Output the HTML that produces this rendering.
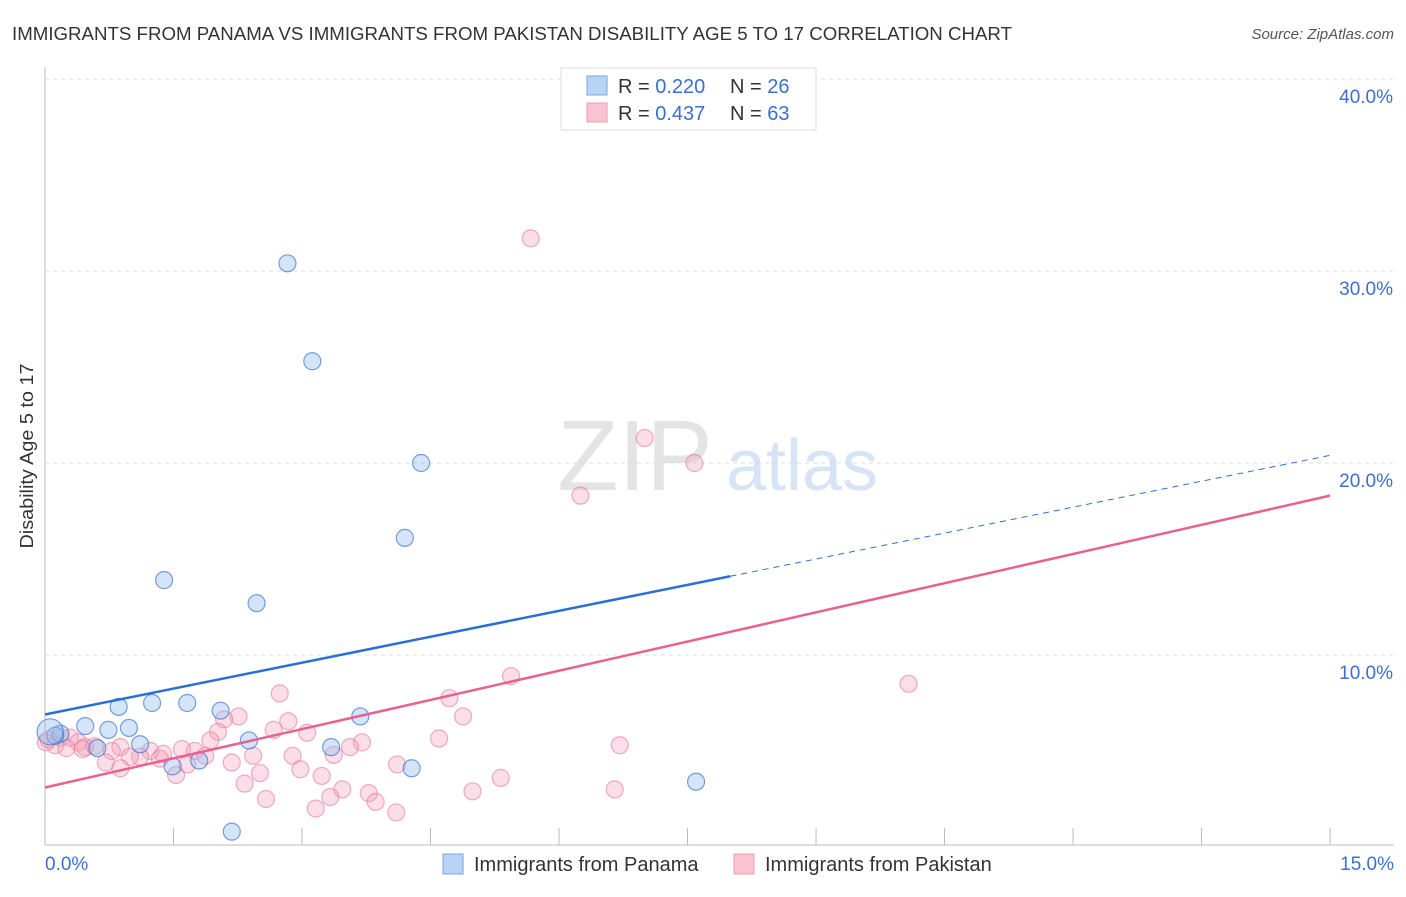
<!DOCTYPE html>
<html><head><meta charset="utf-8"><style>
body{margin:0;background:#fff;font-family:"Liberation Sans",sans-serif}
svg text{font-family:"Liberation Sans",sans-serif}
</style></head><body>
<svg id="c" width="1406" height="892">
<text x="12" y="40" font-size="18" fill="#333" textLength="1000" lengthAdjust="spacingAndGlyphs">IMMIGRANTS FROM PANAMA VS IMMIGRANTS FROM PAKISTAN DISABILITY AGE 5 TO 17 CORRELATION CHART</text>
<text x="1394" y="39" font-size="15" fill="#555" font-style="italic" text-anchor="end">Source: ZipAtlas.com</text>
<text x="33" y="456" font-size="18" fill="#333" transform="rotate(-90 33 456)" text-anchor="middle" textLength="185" lengthAdjust="spacingAndGlyphs">Disability Age 5 to 17</text>
<text x="635" y="490" font-size="100" fill="#e4e4e4" font-family="Liberation Serif" text-anchor="middle">ZIP</text>
<text x="802" y="490" font-size="72" fill="#d6e4f5" text-anchor="middle">atlas</text>
<g id="grid"></g><g id="pts"></g><g id="lines"></g>
<g>
<rect x="561" y="68" width="255" height="62" fill="#fff" stroke="#ddd"/>
<rect x="587" y="76" width="20" height="19" fill="#b7d3f5" stroke="#7aa7e0"/>
<rect x="587" y="103" width="20" height="19" fill="#f9c3d2" stroke="#eb9ab2"/>
<text x="618" y="93" font-size="20" fill="#333">R = <tspan fill="#3a70d0">0.220</tspan></text>
<text x="730" y="93" font-size="20" fill="#333">N = <tspan fill="#3a70d0">26</tspan></text>
<text x="618" y="120" font-size="20" fill="#333">R = <tspan fill="#3a70d0">0.437</tspan></text>
<text x="730" y="120" font-size="20" fill="#333">N = <tspan fill="#3a70d0">63</tspan></text>
</g>
<g>
<rect x="443" y="854" width="20" height="20" fill="#b7d3f5" stroke="#7aa7e0"/>
<text x="474" y="871" font-size="20" fill="#333">Immigrants from Panama</text>
<rect x="734" y="854" width="20" height="20" fill="#f9c3d2" stroke="#eb9ab2"/>
<text x="765" y="871" font-size="20" fill="#333">Immigrants from Pakistan</text>
</g>
</svg>
<script>
const yTicks=[10,20,30,40];
const xTickLabels=["0.0%","15.0%"];
const panamaX=[2.83,3.12,4.39,4.2,1.39,2.47,0.86,1.25,1.66,2.05,3.68,0.47,0.74,0.98,0.18,0.12,1.11,2.38,3.34,0.61,1.49,1.8,4.28,7.6,2.18,0.06];
const panamaY=[30.4,25.3,20,16.1,13.9,12.7,7.3,7.5,7.5,7.1,6.8,6.3,6.1,6.2,5.9,5.8,5.35,5.55,5.2,5.15,4.2,4.5,4.1,3.4,0.8,6.0];
const pakX=[5.67,7,7.58,6.25,10.08,5.44,2.74,4.72,4.88,2.26,2.09,2.84,2.67,3.06,2.02,1.93,4.6,3.7,3.56,6.71,0.18,0.29,0.39,0.47,0.88,0.78,1.23,1.38,1.6,1.75,1.87,1.11,0.99,1.34,2.89,2.43,3.37,0.71,0.88,1.66,2.18,2.98,2.51,3.23,1.53,4.11,2.33,5.32,3.47,3.78,4.99,6.65,2.58,3.33,3.86,3.16,4.1,0.44,0.58,0.04,0.12,0.25,0.01];
const pakY=[31.7,21.3,20,18.3,8.5,8.9,8,7.75,6.8,6.8,6.65,6.55,6.1,5.95,6.0,5.55,5.65,5.45,5.2,5.3,5.7,5.7,5.45,5.2,5.2,5.0,5.0,4.85,5.1,5.0,4.75,4.7,4.7,4.6,4.75,4.75,4.8,4.4,4.1,4.3,4.4,4.05,3.85,3.7,3.75,4.3,3.3,3.6,3.0,2.8,2.9,3.0,2.5,2.6,2.35,2.0,1.8,5.1,5.25,5.6,5.3,5.15,5.45];
const blueLine=[0,6.9,8,14.1,15,20.4];
const pinkLine=[0,3.1,15,18.3];
const X=v=>45+v*85.67, Y=v=>847-v*19.2;
const NS="http://www.w3.org/2000/svg";
function mk(t,a,p){const e=document.createElementNS(NS,t);for(const k in a)e.setAttribute(k,a[k]);p.appendChild(e);return e;}
const g=document.getElementById('grid');
mk('line',{x1:45,y1:67,x2:45,y2:845,stroke:'#bbb'},g);
mk('line',{x1:45,y1:845,x2:1394,y2:845,stroke:'#bbb'},g);
for(const t of yTicks){const gl=mk('line',{x1:45,y1:Y(t),x2:1394,y2:Y(t),stroke:'#ddd','stroke-dasharray':'4,4'},g);


const tx=mk('text',{x:1393,y:Y(t)+24,'font-size':19,fill:'#3a70d0','text-anchor':'end'},g);tx.textContent=t.toFixed(1)+'%';

}
for(let i=1;i<=10;i++){const tk=mk('line',{x1:X(i*1.5),y1:828,x2:X(i*1.5),y2:845,stroke:'#bbb'},g);

}
const t0=mk('text',{x:45,y:870,'font-size':19,fill:'#3a70d0'},g);t0.textContent=xTickLabels[0];


const t1=mk('text',{x:1394,y:870,'font-size':19,fill:'#3a70d0','text-anchor':'end'},g);t1.textContent=xTickLabels[1];


const p=document.getElementById('pts');
pakX.forEach((x,i)=>{const c=mk('circle',{cx:X(x),cy:Y(pakY[i]),r:8.5,fill:'rgba(244,160,185,0.35)',stroke:'rgba(230,120,155,0.6)','stroke-width':1.2},p);

});
panamaX.forEach((x,i)=>{const c=mk('circle',{cx:X(x),cy:Y(panamaY[i]),r:i==25?13:8.5,fill:'rgba(150,190,240,0.4)',stroke:'rgba(60,120,210,0.7)','stroke-width':1.2},p);

});
const l=document.getElementById('lines');
const b1=mk('line',{x1:X(blueLine[0]),y1:Y(blueLine[1]),x2:X(blueLine[2]),y2:Y(blueLine[3]),stroke:'#2a6fd6','stroke-width':2.5},l);


const b2=mk('line',{x1:X(blueLine[2]),y1:Y(blueLine[3]),x2:X(blueLine[4]),y2:Y(blueLine[5]),stroke:'#2a6fd6','stroke-width':1,'stroke-dasharray':'6,5'},l);


const p1=mk('line',{x1:X(pinkLine[0]),y1:Y(pinkLine[1]),x2:X(pinkLine[2]),y2:Y(pinkLine[3]),stroke:'#e8618f','stroke-width':2.5},l);


</script>
</body></html>
